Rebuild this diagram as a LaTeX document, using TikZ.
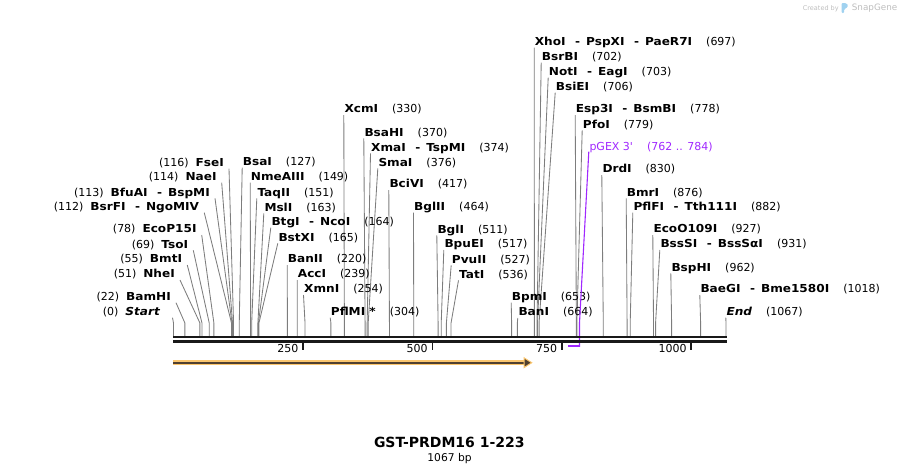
\documentclass[tikz,border=0pt]{standalone}
\usepackage{fontspec}
\setmainfont{DejaVu Sans}
\newfontfamily\labfont{DejaVu Sans}[FakeStretch=1.1]
\definecolor{leadgray}{RGB}{125,125,125}
\definecolor{pgex}{RGB}{160,40,255}
\definecolor{orf}{RGB}{251,198,110}
\definecolor{orfdark}{RGB}{80,64,48}
\definecolor{sgray}{RGB}{190,190,190}
\definecolor{sblue}{RGB}{160,210,240}
\pgfdeclarelayer{background}
\pgfsetlayers{background,main}
\tikzset{
 lab/.style={inner sep=0pt, font=\fontsize{11}{12}\selectfont, text height=7.9pt, text depth=0pt},
 lead/.style={draw=leadgray, line width=0.85pt},
 axisline/.style={line width=2.3pt, draw=black!90},
 tickmark/.style={line width=1.8pt, draw=black!90},
}
\newcommand\nm[1]{{\fontsize{11}{12}\labfont\bfseries #1}}
\newcommand\nmi[1]{{\fontsize{11}{12}\labfont\bfseries\itshape #1}}
\newcommand\rsite[5]{%
 \pgfmathsetmacro\sitex{173.5+#2*0.5178}%
 \coordinate (t#1) at (\sitex,323);
 \coordinate (a#1) at (\sitex,337);
 \node[lab,anchor=west] (n#1) at (#3,#4) {#5};
 \begin{pgfonlayer}{background}\draw[lead] ([xshift=-0.5pt,yshift=-6pt]n#1.west) -- (t#1) -- (a#1);\end{pgfonlayer}
}
\newcommand\lsite[5]{%
 \pgfmathsetmacro\sitex{173.5+#2*0.5178}%
 \coordinate (t#1) at (\sitex,323);
 \coordinate (a#1) at (\sitex,337);
 \node[lab,anchor=east] (n#1) at (#3,#4) {#5};
 \begin{pgfonlayer}{background}\draw[lead] ([xshift=5pt,yshift=-6pt]n#1.east) -- (t#1) -- (a#1);\end{pgfonlayer}
}
\newcommand\gapR{\hspace{14pt}}
\newcommand\gapL{\hspace{7pt}}
\newcommand\dsh{\hspace{9.5pt}-\hspace{6pt}}
\begin{document}
\begin{tikzpicture}[x=1pt,y=-1pt]
\useasboundingbox (0,0) rectangle (900,475);
% left-side labels
\lsite{FseI}{116}{224}{162.7}{(116)\gapL\nm{FseI}}
\lsite{NaeI}{114}{216.7}{176.7}{(114)\gapL\nm{NaeI}}
\lsite{BfuAI}{113}{210}{192.3}{(113)\gapL\nm{BfuAI\dsh BspMI}}
\lsite{BsrFI}{112}{199.3}{206.7}{(112)\gapL\nm{BsrFI\dsh NgoMIV}}
\lsite{EcoPI}{78}{196.7}{229}{(78)\gapL\nm{EcoP15I}}
\lsite{TsoI}{69}{188.3}{244.3}{(69)\gapL\nm{TsoI}}
\lsite{BmtI}{55}{182.3}{259}{(55)\gapL\nm{BmtI}}
\lsite{NheI}{51}{175}{274}{(51)\gapL\nm{NheI}}
\lsite{BamHI}{22}{171}{296.7}{(22)\gapL\nm{BamHI}}
\coordinate (tStart) at (173.5,323);
\coordinate (aStart) at (173.5,337);
\node[lab,anchor=east] (nStart) at (160,311.7) {(0)\gapL\nmi{Start}};
\begin{pgfonlayer}{background}\draw[lead] ([xshift=12.5pt,yshift=-6pt]nStart.east) -- (tStart) -- (aStart);\end{pgfonlayer}
% right-side labels
\rsite{BsaI}{127}{242.7}{161.7}{\nm{BsaI}\gapR(127)}
\rsite{NmeAIII}{149}{250.7}{176.7}{\nm{NmeAIII}\gapR(149)}
\rsite{TaqII}{151}{257.3}{192.3}{\nm{TaqII}\gapR(151)}
\rsite{MslI}{163}{264.3}{207.3}{\nm{MslI}\gapR(163)}
\rsite{BtgI}{164}{271.3}{221.7}{\nm{BtgI\dsh NcoI}\gapR(164)}
\rsite{BstXI}{165}{278.3}{237.3}{\nm{BstXI}\gapR(165)}
\rsite{BanII}{220}{287.7}{259}{\nm{BanII}\gapR(220)}
\rsite{AccI}{239}{297.7}{274}{\nm{AccI}\gapR(239)}
\rsite{XmnI}{254}{304}{289}{\nm{XmnI}\gapR(254)}
\rsite{PflMI}{304}{330.7}{311.7}{\nm{PflMI *}\gapR(304)}
\rsite{XcmI}{330}{344.3}{109}{\nm{XcmI}\gapR(330)}
\rsite{BsaHI}{370}{364.3}{132.3}{\nm{BsaHI}\gapR(370)}
\rsite{XmaI}{374}{371}{147.3}{\nm{XmaI\dsh TspMI}\gapR(374)}
\rsite{SmaI}{376}{378.3}{162.3}{\nm{SmaI}\gapR(376)}
\rsite{BciVI}{417}{389.3}{184}{\nm{BciVI}\gapR(417)}
\rsite{BglII}{464}{414}{206.7}{\nm{BglII}\gapR(464)}
\rsite{BglI}{511}{437.3}{229.3}{\nm{BglI}\gapR(511)}
\rsite{BpuEI}{517}{444.3}{244}{\nm{BpuEI}\gapR(517)}
\rsite{PvuII}{527}{451.7}{259.3}{\nm{PvuII}\gapR(527)}
\rsite{TatI}{536}{459}{274.3}{\nm{TatI}\gapR(536)}
\rsite{BpmI}{653}{511.7}{296.7}{\nm{BpmI}\gapR(653)}
\rsite{BanI}{664}{518.3}{312}{\nm{BanI}\gapR(664)}
\rsite{XhoI}{697}{534.7}{41.7}{\nm{XhoI\dsh PspXI\dsh PaeR7I}\gapR(697)}
\rsite{BsrBI}{702}{541.7}{56.7}{\nm{BsrBI}\gapR(702)}
\rsite{NotI}{703}{548.7}{71.7}{\nm{NotI\dsh EagI}\gapR(703)}
\rsite{BsiEI}{706}{555.7}{86.7}{\nm{BsiEI}\gapR(706)}
\rsite{EspI}{778}{575.7}{109}{\nm{Esp3I\dsh BsmBI}\gapR(778)}
\rsite{PfoI}{779}{582.7}{124.3}{\nm{PfoI}\gapR(779)}
\rsite{DrdI}{830}{602.3}{169}{\nm{DrdI}\gapR(830)}
\rsite{BmrI}{876}{626.7}{192.3}{\nm{BmrI}\gapR(876)}
\rsite{PflFI}{882}{633.3}{206.7}{\nm{PflFI\dsh Tth111I}\gapR(882)}
\rsite{EcoOI}{927}{653.3}{229}{\nm{EcoO109I}\gapR(927)}
\rsite{BssSI}{931}{660.3}{244}{\nm{BssSI\dsh BssSαI}\gapR(931)}
\rsite{BspHI}{962}{671.3}{267.3}{\nm{BspHI}\gapR(962)}
\rsite{BaeGI}{1018}{700.3}{289}{\nm{BaeGI\dsh Bme1580I}\gapR(1018)}
\rsite{End}{1067}{726.3}{311.7}{\nmi{End}\gapR(1067)}
% pGEX 3' feature
\node[lab,anchor=west,text=pgex] (npGEX) at (589.3,146.7) {pGEX 3\textquotesingle\gapR(762 .. 784)};
\coordinate (tpGEX) at (579.5,323);
\coordinate (bpGEX) at (579.5,346.8);
\coordinate (fpGEX) at (568.1,345.8);
\coordinate (gpGEX) at (579.5,345.8);
\draw[pgex, line width=1.1pt] ([xshift=-0.5pt,yshift=-5pt]npGEX.west) -- (tpGEX) -- (bpGEX);
\draw[pgex, line width=2pt] (fpGEX) -- (gpGEX);
% sequence axis
\coordinate (ax0) at (173,337);
\coordinate (ax1) at (726.8,337);
\coordinate (bx0) at (173,341.5);
\coordinate (bx1) at (726.8,341.5);
\draw[axisline] (ax0) -- (ax1);
\draw[axisline] (bx0) -- (bx1);
\foreach \v in {250,500,750,1000}{
  \pgfmathsetmacro\tkx{173.5+\v*0.5178}
  \draw[tickmark] (\tkx,342.5) -- (\tkx,349.5);
  \node[lab,anchor=east] (tk\v) at (\tkx-4.5,349) {\v};
}
% ORF arrow
\coordinate (orfA) at (173,362.7);
\coordinate (orfB) at (525,362.7);
\draw[orf, line width=5.3pt] (orfA) -- (orfB);
\draw[orfdark, line width=2pt] (orfA) -- (orfB);
\filldraw[fill=orfdark, draw=orf, line width=1pt, line join=miter] (524,357.8) -- (531.7,362.7) -- (524,367.6) -- cycle;
% title
\node[inner sep=0pt, font=\fontsize{14}{16}\selectfont\bfseries] (title) at (449.3,442.3) {GST-PRDM16 1-223};
\node[inner sep=0pt, font=\fontsize{10.7}{12}\selectfont] (len) at (449.5,458.3) {1067 bp};
% SnapGene mark
\node[inner sep=0pt, anchor=west, text=sgray, font=\fontsize{6.5}{7}\selectfont] (cby) at (802.7,8.3) {Created by};
\fill[sblue, rounded corners=1.2pt] (841.5,13) -- (841.5,3) -- (846,3) -- (848.3,5.6) -- (846,8.6) -- (844.2,8.6) -- (844.2,13) -- cycle;
\node[inner sep=0pt, anchor=west, text=sgray, font=\fontsize{8.8}{10}\selectfont] (sg) at (851.7,8.3) {SnapGene};
\end{tikzpicture}
\end{document}
